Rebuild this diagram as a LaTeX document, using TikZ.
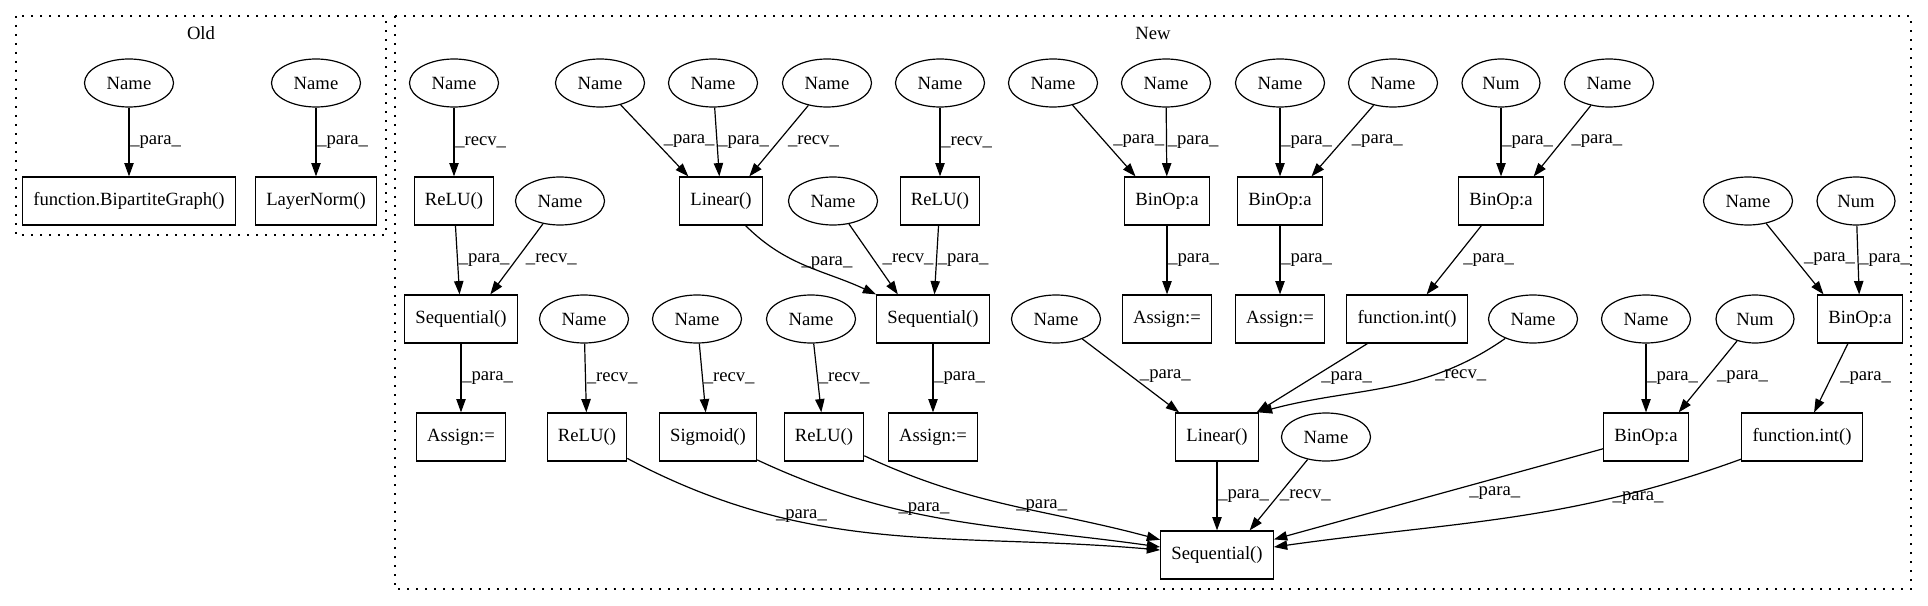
\documentclass[tikz,border=0pt]{standalone}
\usepackage{fontspec}
\setmainfont{Liberation Serif}
\usetikzlibrary{shapes.geometric, arrows.meta}

\tikzset{
  namenode/.style={ellipse, draw, minimum width=66.75pt, minimum height=36pt, inner sep=0pt},
  numnode/.style={ellipse, draw, minimum width=58.5pt, minimum height=36pt, inner sep=0pt},
  opbox/.style={rectangle, draw, minimum width=54pt, minimum height=36pt, inner xsep=8pt},
  arr/.style={-{Triangle[length=10pt, width=7pt]}},
  lbl/.style={anchor=west, inner sep=0.5pt},
  lbls/.style={lbl, xshift=6pt},
  cluster/.style={line width=1pt, dash pattern=on 1.5pt off 5.25pt}
}
\newcommand{\lpara}{\_para\_}
\newcommand{\lrecv}{\_recv\_}

\begin{document}
\begin{tikzpicture}[x=0.75pt, y=-0.75pt, line width=0.9pt, font=\fontsize{14pt}{17pt}\selectfont]
    \useasboundingbox (0,0) rectangle (1928,606);

    % Clusters
    \draw[cluster] (16,16) rectangle (386,235);
    \draw[cluster] (395,16) rectangle (1911,589);
    \node (oldlbl) at (201,33) {Old};
    \node (newlbl) at (1153,33) {New};

    % Old
    \node[namenode] (oname1) at (129,83) {Name};
    \node[namenode] (oname2) at (316,83) {Name};
    \node[opbox] (bipg) at (129,201) {function.BipartiteGraph()};
    \node[opbox] (lnorm) at (316,201) {LayerNorm()};

    % New: Name and Num leaves
    \foreach \n/\x/\y in {nr1/454/83, nl1/600/83, nl2/713/83, nl3/827/83, nr2/940/83,
        nb1/1053/83, nb2/1166/83, nb3/1280/83, nb4/1393/83, nb5/1609/83,
        ns1/560/201, ns2/833/201, nb6/1748/201,
        nr3/584/319, nsig/697/319, nr4/811/319, nlin/1056/319, nrecv/1533/319, nb7/1646/319,
        nseq/1326/437}
        \node[namenode] (\n) at (\x,\y) {Name};
    \node[numnode] (numb) at (1501,83) {Num};
    \node[numnode] (numc) at (1856,201) {Num};
    \node[numnode] (numd) at (1755,319) {Num};

    % New: calls and operators
    \foreach \n/\x/\y/\t in {relu1/454/201/ReLU(), lin1/721/201/Linear(), relu2/940/201/ReLU(),
        binop1/1167/201/BinOp:a, binop2/1280/201/BinOp:a, binop3/1501/201/BinOp:a,
        seq1/461/319/Sequential(), seq2/933/319/Sequential(), asg3/1167/319/Assign:=,
        asg4/1280/319/Assign:=, fint1/1407/319/function.int(), binop4/1860/319/BinOp:a,
        asg1/461/437/Assign:=, relu3/587/437/ReLU(), sigm/708/437/Sigmoid(), relu4/824/437/ReLU(),
        asg2/933/437/Assign:=, lin2/1217/437/Linear(), binop5/1646/437/BinOp:a,
        fint2/1802/437/function.int(), seqf/1217/555/Sequential()}
        \node[opbox] (\n) at (\x,\y) {\t};

    % Straight edges
    \foreach \a/\b/\l in {oname1/bipg/\lpara, oname2/lnorm/\lpara, nr1/relu1/\lrecv,
        relu1/seq1/\lpara, nl2/lin1/\lpara, nr2/relu2/\lrecv, relu2/seq2/\lpara,
        seq1/asg1/\lpara, seq2/asg2/\lpara, nr3/relu3/\lrecv, nsig/sigm/\lrecv,
        nr4/relu4/\lrecv, nb2/binop1/\lpara, nb3/binop2/\lpara, numb/binop3/\lpara,
        binop1/asg3/\lpara, binop2/asg4/\lpara, numc/binop4/\lpara, nb7/binop5/\lpara,
        lin2/seqf/\lpara}
        \draw[arr] (\a) -- node[lbl] {\l} (\b);
    \foreach \a/\b/\l in {ns1/seq1.40/\lrecv, nl1/lin1.143/\lpara, nl3/lin1.41/\lrecv,
        ns2/seq2.145/\lrecv, nb1/binop1.142/\lpara, nb4/binop2.38/\lpara, nb5/binop3.37/\lpara,
        binop3/fint1/\lpara, nb6/binop4.146/\lpara, nlin/lin2.147/\lpara, fint1/lin2/\lpara,
        numd/binop5.37/\lpara, binop4/fint2/\lpara}
        \draw[arr] (\a) -- node[lbls] {\l} (\b);
    \draw[arr] (nseq) -- node[lbl] {\lrecv} (seqf.37);

    % Curved edges
    \draw[arr] (lin1) to[out=-45, in=155] node[lbl, pos=.45] {\lpara} (seq2.north west);
    \draw[arr] (nrecv) to[out=215, in=15] node[lbl, pos=.3] {\lrecv} (lin2.north east);
    \draw[arr] (relu3) to[out=-28, in=175] node[lbl, pos=.28] {\lpara} (seqf);
    \draw[arr] (sigm) to[out=-25, in=172] node[lbl, pos=.35] {\lpara} (seqf);
    \draw[arr] (relu4) to[out=-25, in=165] node[lbl, pos=.52] {\lpara} (seqf);
    \draw[arr] (binop5) -- node[lbl, anchor=north west, pos=.41] {\lpara} (seqf);
    \draw[arr] (fint2) to[out=200, in=8] node[lbl, pos=.27] {\lpara} (seqf);
\end{tikzpicture}
\end{document}
